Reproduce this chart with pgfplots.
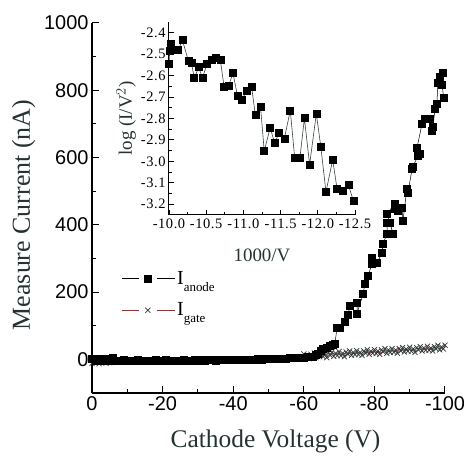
\documentclass[border=0pt]{standalone}
\usepackage{fontspec}
\setmainfont{Liberation Serif}
\setsansfont{Liberation Sans}
\newfontfamily\insetfont[LetterSpace=4]{Liberation Serif}
\usepackage{pgfplots}
\pgfplotsset{compat=1.18}
\definecolor{labelgray}{RGB}{38,50,50}
\definecolor{linegray}{RGB}{55,66,66}
\definecolor{gatered}{RGB}{140,55,55}
\definecolor{gatemark}{RGB}{50,58,58}

\begin{document}
\begin{tikzpicture}
\useasboundingbox (-92bp,-67bp) rectangle (377bp,393bp);
\begin{axis}[scale only axis, width=353bp, height=370bp,
  xmin=-100, xmax=0, x dir=reverse, ymin=-100, ymax=1000,
  axis x line*=bottom, axis y line*=left,
  axis line style={line width=1.1bp},
  tick align=inside, major tick length=7bp, minor tick length=4bp,
  every tick/.style={line width=1bp, black},
  xtick={0,-20,-40,-60,-80,-100}, minor x tick num=1,
  ytick={0,200,400,600,800,1000}, minor y tick num=1,
  tick label style={font=\fontsize{20}{20}\selectfont\sffamily},
  /pgf/number format/assume math mode=true,
  /pgf/number format/1000 sep={},
  xlabel={Cathode Voltage (V)}, ylabel={Measure Current (nA)},
  label style={color=labelgray},
  xlabel style={font=\fontsize{25.5}{26}\selectfont, yshift=-12bp, xshift=7bp},
  ylabel style={font=\fontsize{26}{26}\selectfont, yshift=2bp, xshift=-7bp},
  reverse legend,
  legend style={at={(axis description cs:0.075,0.34)}, anchor=north west, draw=none, fill=none,
    font=\fontsize{20}{20}\selectfont, row sep=13bp, cells={anchor=west}},
  legend image code/.code={%
    \draw[#1,mark=none] (0bp,0bp) -- (17bp,0bp);
    \draw[#1,mark=none] (35bp,0bp) -- (53bp,0bp);
    \draw[#1] plot coordinates {(26bp,0bp)};},
]
% gate current
\addplot[gatered, line width=0.5bp, mark=x, mark size=3.6bp, mark options={gatemark, line width=0.7bp}] coordinates {
(0,-12) (-1,-10) (-2,-13) (-3,-9) (-4,-11) (-5,-10) (-6,-8) (-7,-9) (-8,-7) (-9,-6)
(-10,-6) (-12,-5) (-14,-6) (-16,-5) (-18,-5) (-20,-4) (-22,-5) (-24,-4) (-26,-4) (-28,-4)
(-30,-3) (-32,-4) (-34,-3) (-36,-3) (-38,-2) (-40,-2) (-42,-2) (-44,-1) (-46,0) (-48,0)
(-50,1) (-52,2) (-54,2) (-56,3) (-58,5) (-59,6)
(-60,16) (-60.5,4) (-61,12) (-61.5,2) (-62,15) (-62.5,9) (-63,19) (-63.5,5) (-64,15) (-64.5,8)
(-65,19) (-65.5,8) (-66,15) (-66.5,5) (-67,19) (-67.5,12) (-68,22) (-68.5,9) (-69,18) (-69.5,11)
(-70,23) (-70.5,11) (-71,18) (-71.5,8) (-72,22) (-72.5,15) (-73,25) (-73.5,12) (-74,21) (-74.5,14)
(-75,26) (-75.5,14) (-76,21) (-76.5,12) (-77,25) (-77.5,18) (-78,29) (-78.5,15) (-79,24) (-79.5,18)
(-80,29) (-80.5,17) (-81,25) (-81.5,15) (-82,28) (-82.5,22) (-83,32) (-83.5,18) (-84,28) (-84.5,21)
(-85,32) (-85.5,21) (-86,28) (-86.5,18) (-87,32) (-87.5,25) (-88,35) (-88.5,22) (-89,31) (-89.5,24)
(-90,36) (-90.5,24) (-91,31) (-91.5,21) (-92,35) (-92.5,28) (-93,38) (-93.5,25) (-94,34) (-94.5,27)
(-95,39) (-95.5,27) (-96,34) (-96.5,25) (-97,38) (-97.5,31) (-98,42) (-98.5,28) (-99,37) (-99.5,31)
(-100,42)
};
\addlegendentry{I\raisebox{-7bp}{\fontsize{13}{13}\selectfont gate}}
% anode current
\addplot[black, line width=0.5bp, mark=square*, mark size=3.5bp] coordinates {
(0,1) (-1,-4) (-2,3) (-3,-5) (-4,2) (-5,-3) (-6,4) (-7,-4) (-8,-3) (-9,-2)
(-10,-3) (-11,-4) (-12,-3) (-13,-2) (-14,-3) (-15,-3) (-16,-4) (-17,-3) (-18,-2) (-19,-3)
(-20,-3) (-21,-2) (-22,-3) (-23,-4) (-24,-3) (-25,-3) (-26,-2) (-27,-3) (-28,-3) (-29,-2)
(-30,-3) (-31,-2) (-32,-3) (-33,-2) (-34,-2) (-35,-3) (-36,-2) (-37,-2) (-38,-1) (-39,-2)
(-40,-2) (-41,-1) (-42,-1) (-43,-2) (-44,-1) (-45,0) (-46,0) (-47,1) (-48,0) (-49,1)
(-50,2) (-51,1) (-52,2) (-53,3) (-54,2) (-55,3) (-56,4) (-57,4) (-58,5) (-59,6)
(-60,6) (-61,7) (-62,8) (-62.6,9) (-63.3,14) (-64.0,18) (-64.7,25) (-65.4,33) (-66.4,36) (-67.4,39)
(-68.1,42) (-68.8,45) (-69.4,93) (-70.3,93) (-71.5,112) (-72.5,134) (-73.1,158) (-75.1,167) (-75.1,137) (-76.8,194)
(-77.3,224) (-78.2,248) (-79.3,284) (-79.3,301) (-80.7,287) (-82.2,316) (-82.4,343) (-83.6,373) (-83.6,406) (-84.4,406)
(-85.3,373) (-83.6,433) (-85.8,463) (-85.8,448) (-86.7,442) (-87.8,451) (-88.1,412) (-89.2,507) (-89.5,496) (-90.7,567)
(-90.9,573) (-92.4,606) (-92.9,612) (-92.1,630) (-93.5,701) (-94.3,716) (-95.8,716) (-96.3,681) (-96.6,693) (-97.2,746)
(-97.7,761) (-98.0,821) (-98.6,839) (-99.4,851) (-99.2,815) (-99.6,779)
};
\addlegendentry{I\raisebox{-7bp}{\fontsize{13}{13}\selectfont anode}}
\end{axis}

\begin{axis}[at={(77bp,178bp)}, anchor=south west, scale only axis, width=186bp, height=193bp,
  xmin=-12.5, xmax=-10, x dir=reverse, ymin=-3.25, ymax=-2.35,
  axis x line*=bottom, axis y line*=left,
  axis line style={line width=1bp},
  tick align=inside, major tick length=5bp, minor tick length=3bp,
  every tick/.style={line width=0.9bp, black},
  xtick={-10,-10.5,-11,-11.5,-12,-12.5}, minor x tick num=1,
  ytick={-3.2,-3.1,-3.0,-2.9,-2.8,-2.7,-2.6,-2.5,-2.4}, minor y tick num=1,
  tick label style={font=\fontsize{14.5}{15}\insetfont},
  /pgf/number format/assume math mode=true,
  /pgf/number format/.cd, fixed, fixed zerofill, precision=1, /pgfplots/.cd,
  xlabel={1000/V}, ylabel={log (I/V$^2$)},
  label style={font=\fontsize{19}{19}\selectfont, color=labelgray},
  xlabel style={yshift=-14bp}, ylabel style={yshift=-2bp},
]
\addplot[linegray, line width=0.6bp, mark=square*, mark size=3.5bp, mark options={black}] coordinates {
(-10.00,-2.546) (-10.01,-2.484) (-10.03,-2.453) (-10.125,-2.480) (-10.18,-2.434) (-10.26,-2.530)
(-10.30,-2.538) (-10.34,-2.612) (-10.40,-2.561) (-10.45,-2.611) (-10.51,-2.546) (-10.57,-2.527)
(-10.63,-2.518) (-10.69,-2.527) (-10.74,-2.651) (-10.80,-2.648) (-10.86,-2.589) (-10.92,-2.693)
(-10.98,-2.713) (-11.04,-2.673) (-11.11,-2.651) (-11.16,-2.783) (-11.23,-2.744) (-11.28,-2.952)
(-11.36,-2.843) (-11.42,-2.915) (-11.48,-2.867) (-11.55,-2.894) (-11.63,-2.763) (-11.69,-2.985)
(-11.76,-2.983) (-11.82,-2.799) (-11.89,-3.015) (-11.98,-2.778) (-12.04,-2.930) (-12.11,-3.143)
(-12.20,-2.992) (-12.26,-3.130) (-12.33,-3.138) (-12.41,-3.108) (-12.48,-3.186)
};
\end{axis}
\end{tikzpicture}
\end{document}
